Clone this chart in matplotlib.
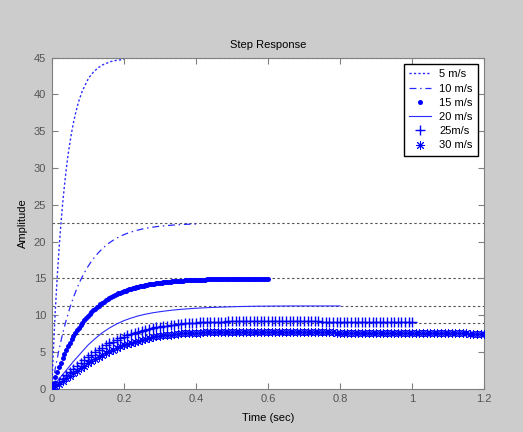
import numpy as np
import matplotlib
matplotlib.use("Agg")
import matplotlib.pyplot as plt

plt.rcParams['font.family'] = ['Liberation Sans', 'DejaVu Sans']

# ---- data ----
labels = ['5 m/s', '10 m/s', '15 m/s', '20 m/s', '25m/s', '30 m/s']
final_values = [45, 22.5, 15, 11.25, 9, 7.5]
end_times = [0.2, 0.4, 0.6, 0.8, 1.0, 1.2]

v5 = [0, 5.7, 10.7, 15.0, 18.8, 22.1, 25.0, 27.5, 29.7, 31.7, 33.3, 34.8, 36.1, 37.2,
      38.2, 39.1, 39.8, 40.5, 41.0, 41.5, 42.0, 42.4, 42.7, 43.0, 43.2, 43.5, 43.7,
      43.8, 44.0, 44.1, 44.2, 44.3, 44.4, 44.5, 44.5, 44.6, 44.65, 44.7, 44.7, 44.75, 44.8]

v10 = [0, 2.81, 5.27, 7.42, 9.30, 10.95, 12.39, 13.65, 14.76, 15.72, 16.57, 17.31, 17.96,
       18.52, 19.02, 19.46, 19.84, 20.17, 20.46, 20.71, 20.94, 21.13, 21.30, 21.45, 21.58,
       21.70, 21.80, 21.89, 21.96, 22.03, 22.09, 22.14, 22.18, 22.22, 22.26, 22.29, 22.32,
       22.34, 22.36, 22.38, 22.39]

v15 = [0, 0.78, 1.53, 2.23, 2.90, 3.54, 4.14, 4.70, 5.24, 5.75,
       6.24, 6.70, 7.13, 7.54, 7.93, 8.30, 8.65, 8.99, 9.30, 9.60,
       9.88, 10.15, 10.40, 10.64, 10.87, 11.09, 11.29, 11.49, 11.67, 11.84,
       12.01, 12.17, 12.32, 12.45, 12.59, 12.71, 12.83, 12.95, 13.05, 13.16,
       13.25, 13.34, 13.43, 13.51, 13.59, 13.67, 13.73, 13.80, 13.86, 13.92,
       13.98, 14.03, 14.08, 14.13, 14.18, 14.22, 14.26, 14.30, 14.34, 14.37,
       14.40, 14.43, 14.46, 14.49, 14.52, 14.54, 14.57, 14.59, 14.61, 14.63,
       14.65, 14.67, 14.69, 14.70, 14.72, 14.73, 14.75, 14.76, 14.77, 14.79,
       14.80, 14.81, 14.82, 14.83, 14.84, 14.84, 14.85, 14.86, 14.87, 14.87,
       14.88, 14.89, 14.89, 14.90, 14.90, 14.91, 14.91, 14.92, 14.92, 14.93,
       14.93, 14.93, 14.94, 14.94, 14.94, 14.95, 14.95, 14.95, 14.95, 14.96,
       14.96, 14.96, 14.96, 14.96, 14.97, 14.97, 14.97, 14.97, 14.97, 14.97,
       14.98]

v20 = [0, 1.3, 2.5, 3.7, 4.8, 5.9, 6.8, 7.6, 8.25, 8.8,
       9.25, 9.6, 9.9, 10.13, 10.32, 10.47, 10.6, 10.71, 10.8, 10.87,
       10.94, 10.99, 11.04, 11.08, 11.11, 11.14, 11.17, 11.19, 11.21, 11.22,
       11.23, 11.24, 11.24, 11.25, 11.25, 11.25, 11.25, 11.25, 11.25, 11.25,
       11.25]

v25 = [0, 0.45, 0.9, 1.35, 1.8, 2.25, 2.7, 3.1, 3.5, 3.9,
       4.3, 4.65, 5.0, 5.3, 5.6, 5.9, 6.15, 6.4, 6.65, 6.85,
       7.05, 7.25, 7.42, 7.58, 7.73, 7.87, 8.0, 8.12, 8.23, 8.33,
       8.42, 8.5, 8.58, 8.65, 8.71, 8.77, 8.82, 8.87, 8.91, 8.95,
       8.98, 9.01, 9.04, 9.06, 9.08, 9.1, 9.11, 9.12, 9.13, 9.14,
       9.15, 9.16, 9.16, 9.17, 9.17, 9.18, 9.18, 9.18, 9.18, 9.18,
       9.18, 9.18, 9.18, 9.18, 9.17, 9.17, 9.17, 9.17, 9.16, 9.16,
       9.16, 9.15, 9.15, 9.14, 9.14, 9.13, 9.12, 9.11, 9.1, 9.1,
       9.09, 9.09, 9.08, 9.08, 9.07, 9.07, 9.06, 9.06, 9.05, 9.05,
       9.05, 9.04, 9.04, 9.04, 9.03, 9.03, 9.03, 9.02, 9.02, 9.02,
       9.02]

v30 = [0, 0.35, 0.7, 1.05, 1.4, 1.75, 2.1, 2.45, 2.8, 3.12,
       3.44, 3.75, 4.05, 4.33, 4.6, 4.86, 5.1, 5.33, 5.54, 5.74,
       5.93, 6.1, 6.26, 6.41, 6.55, 6.68, 6.8, 6.91, 7.01, 7.1,
       7.18, 7.25, 7.31, 7.37, 7.42, 7.47, 7.51, 7.54, 7.57, 7.6,
       7.62, 7.64, 7.65, 7.66, 7.67, 7.68, 7.68, 7.69, 7.69, 7.69,
       7.7, 7.7, 7.7, 7.7, 7.7, 7.7, 7.7, 7.7, 7.7, 7.7,
       7.7, 7.7, 7.7, 7.7, 7.7, 7.69, 7.69, 7.69, 7.69, 7.69,
       7.68, 7.68, 7.68, 7.67, 7.67, 7.66, 7.66, 7.65, 7.65, 7.64,
       7.64, 7.63, 7.63, 7.62, 7.62, 7.61, 7.61, 7.6, 7.6, 7.59,
       7.59, 7.58, 7.58, 7.57, 7.57, 7.56, 7.56, 7.56, 7.55, 7.55,
       7.55, 7.54, 7.54, 7.54, 7.53, 7.53, 7.53, 7.52, 7.52, 7.52,
       7.52, 7.51, 7.51, 7.51, 7.51, 7.51, 7.5, 7.5, 7.5, 7.5,
       7.5]

series = [v5, v10, v15, v20, v25, v30]

x_ticks = [0, 0.2, 0.4, 0.6, 0.8, 1.0, 1.2]
x_tick_labels = ['0', '0.2', '0.4', '0.6', '0.8', '1', '1.2']
y_ticks = [0, 5, 10, 15, 20, 25, 30, 35, 40, 45]

# ---- styles ----
blue = '#0000ff'
gray_bg = '#cccccc'

styles = [
    dict(color='#2a2aff', linestyle=(0, (1.6, 1.6)), linewidth=1.0, marker=None),
    dict(color='#2a2aff', linestyle=(0, (5.5, 3, 1.2, 3)), linewidth=0.9, marker=None),
    dict(color=blue, linestyle='none', marker='o', markersize=3.6, markeredgewidth=0),
    dict(color='#2a2aff', linestyle='-', linewidth=0.8, marker=None),
    dict(color=blue, linestyle='none', marker='+', markersize=7, markeredgewidth=1.0),
    dict(color=blue, linestyle='none', marker=(8, 2, 0), markersize=6.5, markeredgewidth=0.7),
]

fig = plt.figure(figsize=(5.23, 4.32), dpi=100, facecolor=gray_bg)
ax = fig.add_axes([0.0989, 0.1002, 0.8271, 0.7662])
ax.set_facecolor('white')

for fv in final_values:
    ax.axhline(fv, color='#555555', linewidth=0.8, linestyle=(0, (2.2, 2.2)), zorder=1)

for vals, tend, lab, st in zip(series, end_times, labels, styles):
    t = np.linspace(0, tend, len(vals))
    ax.plot(t, vals, label=lab, zorder=3, **st)

ax.set_xlim(0, 1.2)
ax.set_ylim(0, 45)
ax.set_xticks(x_ticks)
ax.set_xticklabels(x_tick_labels)
ax.set_yticks(y_ticks)
ax.tick_params(direction='in', top=True, right=True, length=4, width=0.8,
               color='#808080', labelcolor='#555555', labelsize=8, pad=4)
for sp in ax.spines.values():
    sp.set_color('#808080')
    sp.set_linewidth(0.8)

ax.set_title('Step Response', fontsize=8, color='black', pad=7)
ax.set_xlabel('Time (sec)', fontsize=8, color='black', labelpad=6.5)
ax.set_ylabel('Amplitude', fontsize=8, color='black', labelpad=4.5)

leg = ax.legend(loc='upper right', fontsize=8, frameon=True, fancybox=False,
                edgecolor='black', framealpha=1, borderaxespad=0.55,
                handlelength=2.0, handletextpad=0.7, labelspacing=0.38,
                borderpad=0.5, numpoints=1)
leg.get_frame().set_linewidth(1.0)

fig.savefig('out.png', dpi=100, facecolor=gray_bg)
